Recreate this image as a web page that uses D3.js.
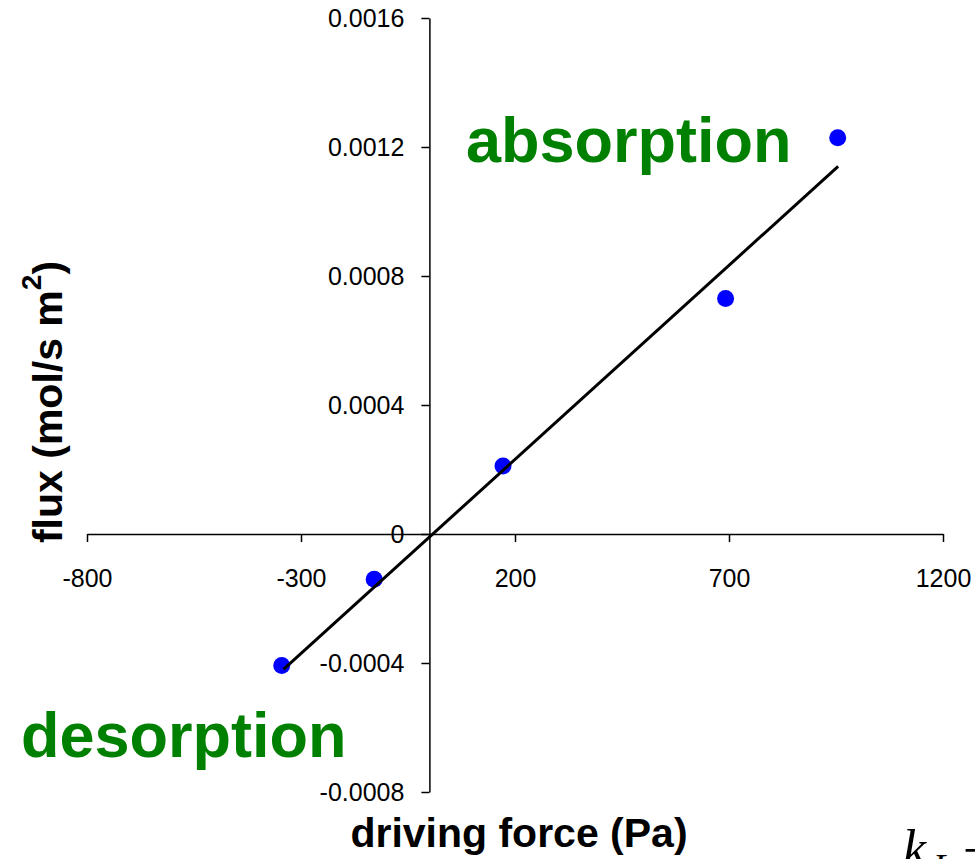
<!DOCTYPE html>
<html>
<head>
<meta charset="utf-8">
<script src="https://cdn.jsdelivr.net/npm/d3@7"></script>
<style>
  body { margin: 0; background: #fff; }
  svg { display: block; font-family: "Liberation Sans", Arial, sans-serif; }
  .axis text { font-size: 25px; fill: #000; }
  .axis path, .axis line { stroke: #000; stroke-width: 1.5px; }
  .axisText { font-weight: bold; font-size: 41px; fill: #000; }
  .zoneText { font-weight: bold; font-size: 63px; fill: #008000; }
</style>
</head>
<body>
<div id="scatter"></div>
<script>
// measured points: driving force (Pa) and flux (mol/s m2)
var drivingForce = [-345, -129, 172, 692, 954];
var flux = [-0.000408, -0.00014, 0.000211, 0.00073, 0.001229];

// ends of the fitted straight line
var fitForce = [-341, 955];
var fitFlux = [-0.00042, 0.00114];

// ticks
var xTicks = [-800, -300, 200, 700, 1200];
var xTickLabels = ["-800", "-300", "200", "700", "1200"];
var yTicks = [-0.0008, -0.0004, 0, 0.0004, 0.0008, 0.0012, 0.0016];
var yTickLabels = ["-0.0008", "-0.0004", "0", "0.0004", "0.0008", "0.0012", "0.0016"];

var svgWidth = 975;
var svgHeight = 859;

var svg = d3.select("#scatter").append("svg")
  .attr("width", svgWidth)
  .attr("height", svgHeight);

// scales map straight onto the picture
var xLinearScale = d3.scaleLinear()
  .domain([-800, 1200])
  .range([87, 943]);

var yLinearScale = d3.scaleLinear()
  .domain([-0.0008, 0.0016])
  .range([792, 18]);

var bottomAxis = d3.axisBottom(xLinearScale)
  .tickValues(xTicks)
  .tickSize(8)
  .tickSizeOuter(0)
  .tickPadding(27)
  .tickFormat((d, i) => xTickLabels[i]);

var leftAxis = d3.axisLeft(yLinearScale)
  .tickValues(yTicks)
  .tickSize(8)
  .tickSizeOuter(0)
  .tickPadding(17)
  .tickFormat((d, i) => yTickLabels[i]);

// axes cross at the origin
svg.append("g")
  .attr("class", "axis")
  .attr("transform", `translate(0, ${yLinearScale(0)})`)
  .call(bottomAxis);

svg.append("g")
  .attr("class", "axis")
  .attr("transform", `translate(${xLinearScale(0)}, 0)`)
  .call(leftAxis);

// let the css decide the tick font
svg.selectAll(".axis").attr("font-family", null).attr("font-size", null);

// data points
svg.selectAll("circle")
  .data(drivingForce)
  .enter()
  .append("circle")
  .attr("cx", d => xLinearScale(d))
  .attr("cy", (d, i) => yLinearScale(flux[i]))
  .attr("r", 8.5)
  .attr("fill", "#0000ff");

// fit line on top of the points
var line = d3.line()
  .x(d => xLinearScale(d))
  .y((d, i) => yLinearScale(fitFlux[i]));

svg.append("path")
  .datum(fitForce)
  .attr("d", line)
  .attr("fill", "none")
  .attr("stroke", "#000")
  .attr("stroke-width", 3);

// labels for the two regions
svg.append("text")
  .attr("class", "zoneText")
  .attr("x", 466)
  .attr("y", 162)
  .text("absorption");

svg.append("text")
  .attr("class", "zoneText")
  .attr("x", 21)
  .attr("y", 757)
  .text("desorption");

// x axis title
svg.append("text")
  .attr("class", "axisText")
  .attr("x", 519)
  .attr("y", 847)
  .attr("text-anchor", "middle")
  .text("driving force (Pa)");

// y axis title
var yTitle = svg.append("text")
  .attr("class", "axisText")
  .attr("font-size", "44px")
  .attr("transform", "translate(62, 402) rotate(-90)")
  .attr("text-anchor", "middle");
yTitle.append("tspan").text("flux (mol/s m");
yTitle.append("tspan").attr("font-size", "28px").attr("dy", "-21").text("2");
yTitle.append("tspan").attr("dy", "21").text(")");

// cut-off equation in the corner
svg.append("text")
  .attr("x", 903)
  .attr("y", 866)
  .attr("font-family", "'Liberation Serif', 'Times New Roman', serif")
  .attr("font-style", "italic")
  .attr("font-size", "52px")
  .text("k");

svg.append("text")
  .attr("x", 933)
  .attr("y", 879)
  .attr("font-family", "'Liberation Serif', 'Times New Roman', serif")
  .attr("font-style", "italic")
  .attr("font-size", "36px")
  .text("L");

svg.append("text")
  .attr("x", 963)
  .attr("y", 873)
  .attr("font-family", "'Liberation Serif', 'Times New Roman', serif")
  .attr("font-size", "52px")
  .text("=");
</script>
</body>
</html>
